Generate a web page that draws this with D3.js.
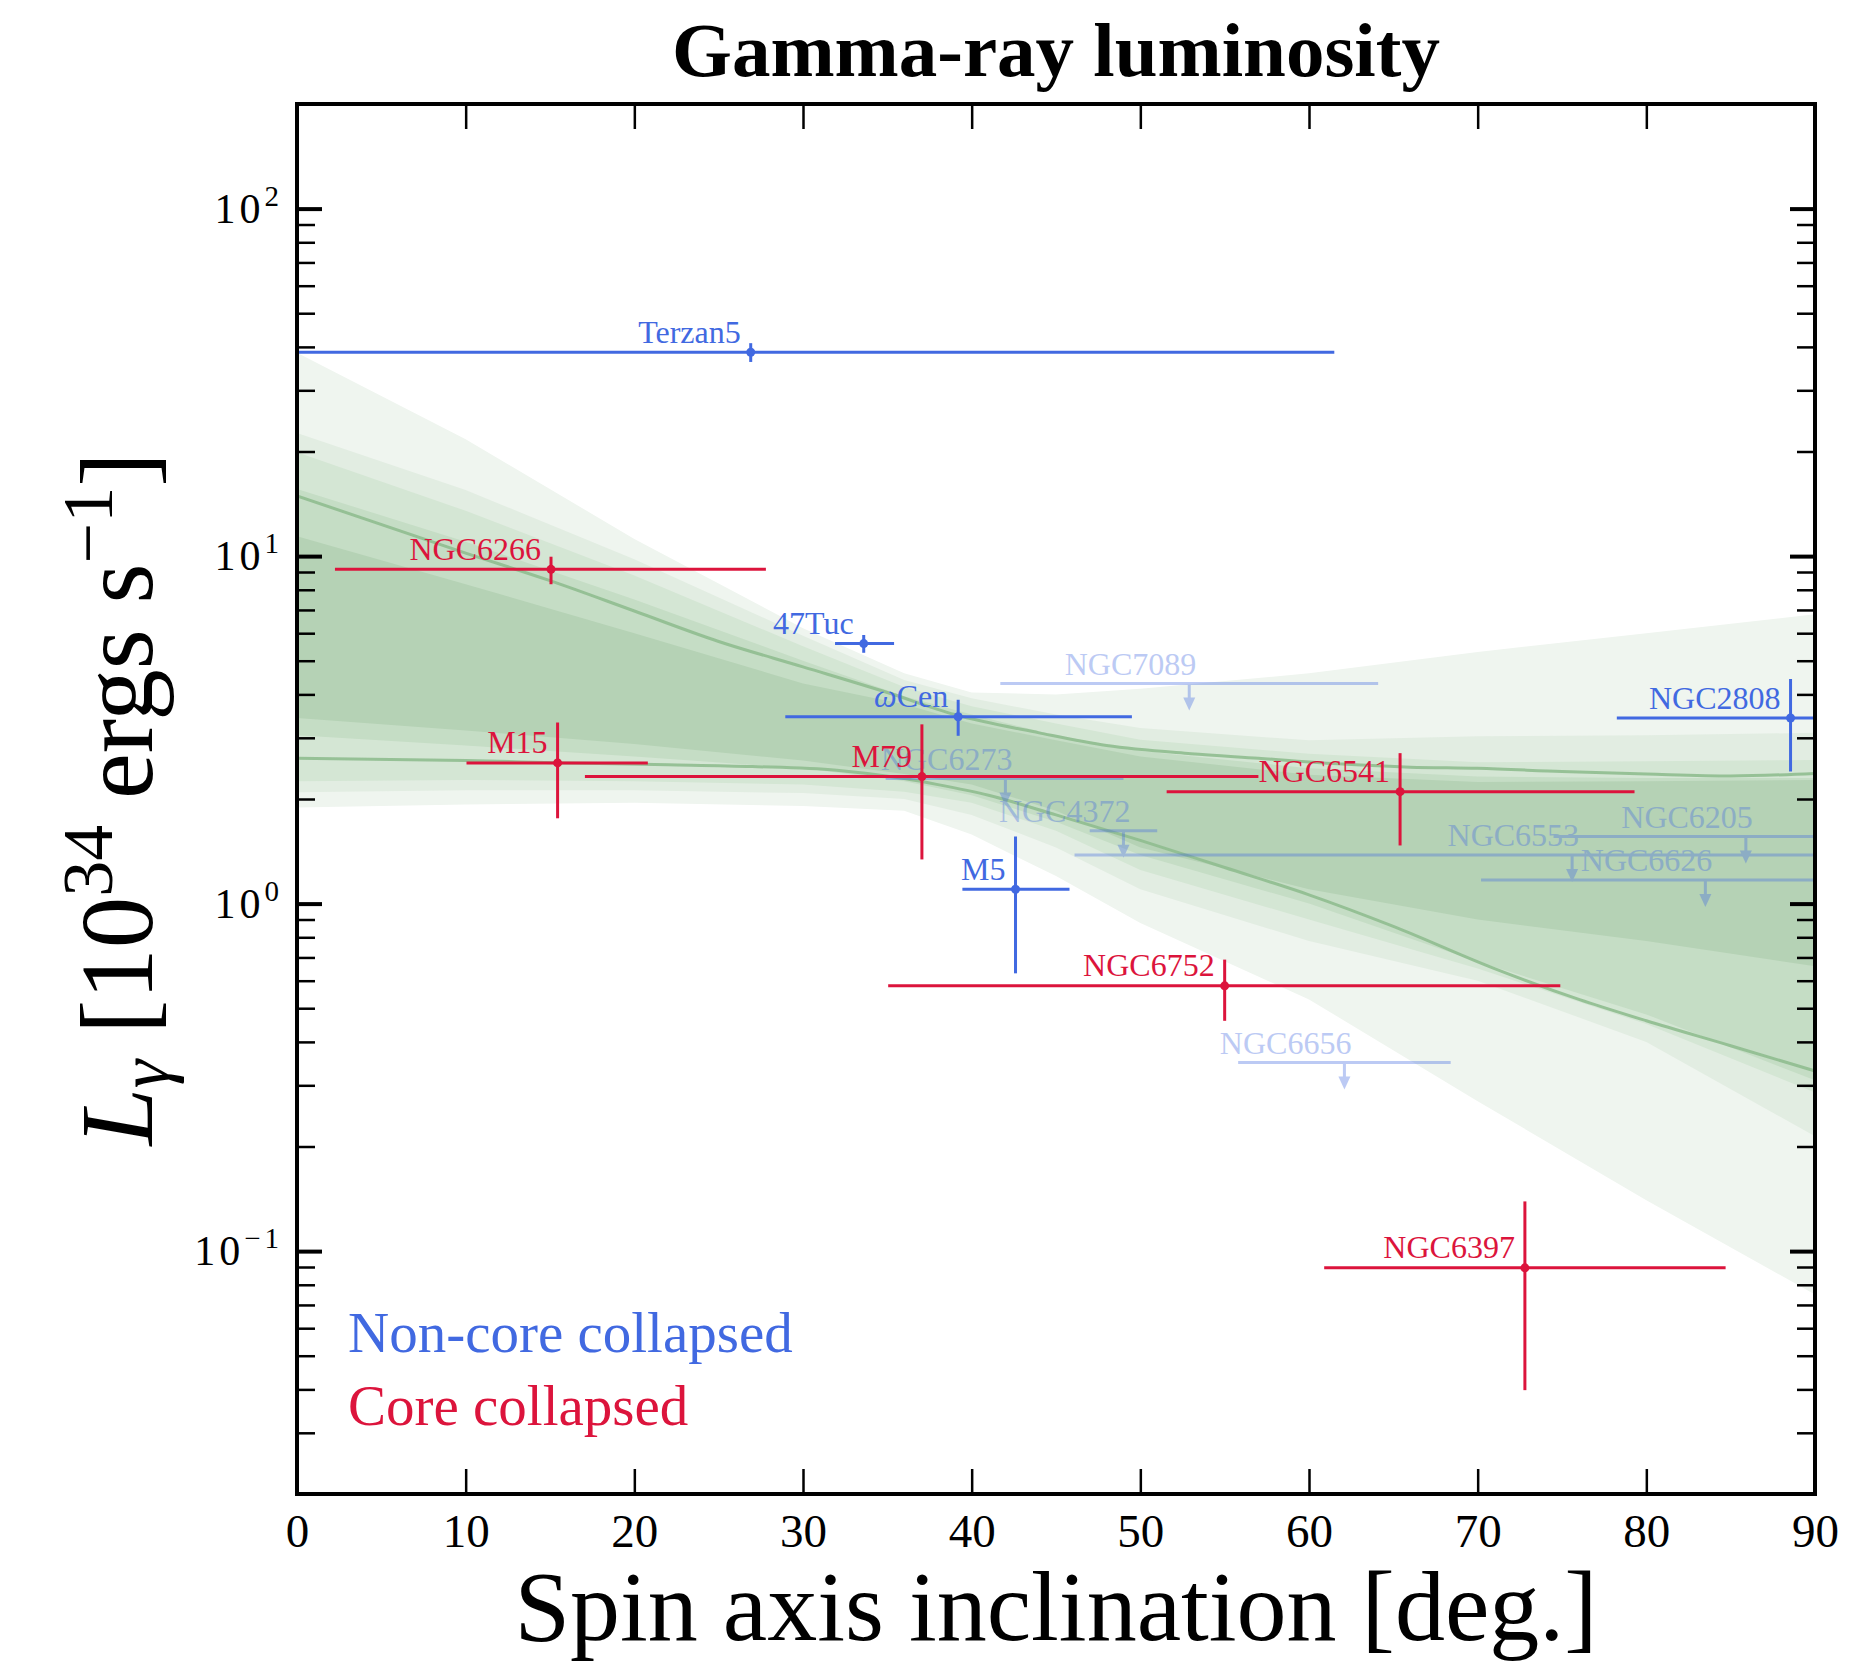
<!DOCTYPE html>
<html>
<head>
<meta charset="utf-8">
<script src="https://cdn.jsdelivr.net/npm/d3@7"></script>
<style>
body { margin: 0; background: #fff; }
text { font-family: "Liberation Serif", "Times New Roman", serif; }
</style>
</head>
<body>
<svg id="chart" width="1865" height="1663"></svg>
<script>
// gamma-ray luminosity of globular clusters vs spin axis inclination

var plotLeft = 297, plotRight = 1815, plotTop = 104, plotBottom = 1494

// the two model curves
var lineAX = [0,10,15,20,25,30,35,39,44,48,53,57,62,66,70,75,80,85,90]
var lineAY = [14.9,10.2,8.5,6.95,5.68,4.8,4.05,3.5,3.1,2.85,2.7,2.62,2.52,2.47,2.45,2.4,2.36,2.33,2.37]
var lineBX = [0,10,16,22,27,32,36,38,41,45,50,55,60,65,71,76,80,85,90]
var lineBY = [2.62,2.58,2.54,2.51,2.48,2.42,2.29,2.2,2.05,1.8,1.52,1.27,1.06,0.86,0.65,0.53,0.46,0.39,0.33]

// shaded bands, outer (lightest) to inner (darkest)
var bandX   = [0,10,20,30,36,40,45,50,60,70,80,90]
var band1Hi = [38.5,21.7,11.2,6.2,4.6,4.05,4.0,4.15,4.6,5.3,6.0,6.8]
var band1Lo = [1.89,1.93,1.95,1.91,1.85,1.58,1.2,0.88,0.53,0.27,0.14,0.075]
var band2Hi = [22.6,15.5,9.8,5.9,4.4,3.9,3.5,3.2,2.95,3.03,3.05,3.1]
var band2Lo = [2.09,2.12,2.12,2.08,2.0,1.8,1.45,1.1,0.78,0.6,0.4,0.214]
var band3Hi = [19.9,13.5,8.8,5.5,4.2,3.7,3.3,2.96,2.7,2.55,2.57,2.59]
var band3Lo = [2.25,2.27,2.25,2.2,2.1,1.95,1.62,1.25,0.9,0.65,0.45,0.286]
var band4Hi = [15.6,11.0,7.5,5.0,3.95,3.5,3.05,2.75,2.45,2.32,2.3,2.3]
var band4Lo = [3.05,2.85,2.65,2.45,2.25,2.05,1.72,1.38,1.0,0.68,0.48,0.31]
var band5Hi = [11.4,8.3,6.0,4.3,3.75,3.3,2.95,2.65,2.35,2.24,2.25,2.27]
var band5Lo = [3.42,3.15,2.88,2.58,2.36,2.2,1.85,1.45,1.1,0.9,0.78,0.66]
var bandColors = ["#eff5ef","#e2ede2","#d4e6d4","#c5ddc5","#b5d2b5"]

// detected clusters
var detNames  = ["Terzan5","47Tuc","ωCen","M5","NGC2808","NGC6266","M15","M79","NGC6541","NGC6752","NGC6397"]
var detCore   = [false,false,false,false,false,true,true,true,true,true,true]
var detIncl   = [26.9,33.6,39.2,42.6,88.55,15.06,15.45,37.05,65.4,55.0,72.8]
var detInclLo = [0,31.9,28.95,39.45,78.25,2.25,10.05,17.07,51.56,35.05,60.9]
var detInclHi = [61.5,35.4,49.5,45.8,98,27.8,20.8,57.0,79.3,74.9,84.7]
var detLum    = [38.6,5.6,3.45,1.10,3.42,9.16,2.54,2.32,2.10,0.58,0.0895]
var detLumLo  = [36.2,5.27,3.04,0.63,2.40,8.3,1.76,1.34,1.47,0.46,0.0398]
var detLumHi  = [41.0,5.93,3.86,1.56,4.43,9.96,3.32,3.28,2.71,0.69,0.139]

// upper limits (not detected)
var ulNames   = ["NGC7089","NGC6273","NGC4372","NGC6553","NGC6205","NGC6626","NGC6656"]
var ulIncl    = [52.9,42.0,49.0,75.6,85.9,83.5,62.1]
var ulInclLo  = [41.7,34.9,47.0,46.1,74.5,70.2,55.8]
var ulInclHi  = [64.1,49.0,51.0,98,98,98,68.4]
var ulLum     = [4.30,2.29,1.62,1.38,1.56,1.17,0.349]

var xTicks = [0,10,20,30,40,50,60,70,80,90]
var yMajor = [0.1,1,10,100]
var yExp   = ["−1","0","1","2"]
var yMinor = [0.02,0.03,0.04,0.05,0.06,0.07,0.08,0.09,0.2,0.3,0.4,0.5,0.6,0.7,0.8,0.9,
              2,3,4,5,6,7,8,9,20,30,40,50,60,70,80,90]

var blue = "#4169e1", red = "#dc143c"

var svg = d3.select("#chart")
var x = d3.scaleLinear().domain([0,90]).range([plotLeft,plotRight])
var y = d3.scaleLog().domain([0.02,200]).range([plotBottom,plotTop])

svg.append("defs").append("clipPath").attr("id","plotclip")
  .append("rect").attr("x",plotLeft).attr("y",plotTop)
  .attr("width",plotRight-plotLeft).attr("height",plotBottom-plotTop)

var plot = svg.append("g").attr("clip-path","url(#plotclip)")

// bands
var bands = [[band1Lo,band1Hi],[band2Lo,band2Hi],[band3Lo,band3Hi],[band4Lo,band4Hi],[band5Lo,band5Hi]]
var area = d3.area()
  .x(function(d){ return x(d[0]) })
  .y0(function(d){ return y(d[1]) })
  .y1(function(d){ return y(d[2]) })
bands.forEach(function(b, i) {
  var pts = bandX.map(function(v, j){ return [v, b[0][j], b[1][j]] })
  plot.append("path").attr("d", area(pts)).attr("fill", bandColors[i])
})

var line = d3.line().x(function(d){ return x(d[0]) }).y(function(d){ return y(d[1]) })
  .curve(d3.curveMonotoneX)
;[[lineAX,lineAY],[lineBX,lineBY]].forEach(function(l) {
  var pts = l[0].map(function(v, j){ return [v, l[1][j]] })
  plot.append("path").attr("d", line(pts)).attr("fill","none")
    .attr("stroke","#8fbc8f").attr("stroke-width",3).attr("opacity",0.9)
})

// upper limits
var ulG = plot.append("g").attr("opacity",0.35)
ulNames.forEach(function(n, i) {
  var ly = y(ulLum[i]), ax = x(ulIncl[i])
  ulG.append("line").attr("x1",x(ulInclLo[i])).attr("x2",x(ulInclHi[i]))
    .attr("y1",ly).attr("y2",ly).attr("stroke",blue).attr("stroke-width",3)
  ulG.append("line").attr("x1",ax).attr("x2",ax).attr("y1",ly).attr("y2",ly+16)
    .attr("stroke",blue).attr("stroke-width",3)
  ulG.append("path").attr("d","M"+(ax-6)+","+(ly+14)+"L"+(ax+6)+","+(ly+14)+"L"+ax+","+(ly+27)+"Z")
    .attr("fill",blue)
  ulG.append("text").attr("x",ax+7).attr("y",ly-8.5).attr("text-anchor","end")
    .style("font-size","32px").attr("fill",blue).text(n)
})

// detections
detNames.forEach(function(n, i) {
  var c = detCore[i] ? red : blue
  var cx = x(detIncl[i]), cy = y(detLum[i])
  var g = plot.append("g")
  g.append("line").attr("x1",x(detInclLo[i])).attr("x2",x(detInclHi[i]))
    .attr("y1",cy).attr("y2",cy).attr("stroke",c).attr("stroke-width",3)
  g.append("line").attr("x1",cx).attr("x2",cx).attr("y1",y(detLumLo[i])).attr("y2",y(detLumHi[i]))
    .attr("stroke",c).attr("stroke-width",3)
  g.append("circle").attr("cx",cx).attr("cy",cy).attr("r",4.5).attr("fill",c)
  var t = g.append("text").attr("x",cx-10).attr("y",cy-9.5).attr("text-anchor","end")
    .style("font-size","32px").attr("fill",c)
  if (n.charAt(0) == "ω") {
    t.append("tspan").style("font-style","italic").text("ω")
    t.append("tspan").text(n.substr(1))
  } else t.text(n)
})

// axes, ticks inward on all four sides
function styleAxis(g) {
  g.select(".domain").remove()
  g.selectAll(".tick line").attr("stroke","#000")
}
svg.append("g").attr("transform","translate(0,"+plotBottom+")")
  .call(d3.axisBottom(x).tickValues(xTicks).tickSize(-25).tickSizeOuter(0).tickPadding(20).tickFormat(d3.format("d")))
  .call(styleAxis)
  .call(function(g){
    g.selectAll(".tick line").attr("stroke-width",2.5)
    g.selectAll(".tick text").attr("fill","#000").style("font-size","47px")
      .style("font-family","'Liberation Serif', serif")
  })
svg.append("g").attr("transform","translate(0,"+plotTop+")")
  .call(d3.axisTop(x).tickValues(xTicks).tickSize(-25).tickSizeOuter(0).tickFormat(""))
  .call(styleAxis)
  .call(function(g){ g.selectAll(".tick line").attr("stroke-width",2.5) })

;[[d3.axisLeft, plotLeft],[d3.axisRight, plotRight]].forEach(function(a) {
  svg.append("g").attr("transform","translate("+a[1]+",0)")
    .call(a[0](y).tickValues(yMajor).tickSize(-25).tickSizeOuter(0).tickFormat(""))
    .call(styleAxis)
    .call(function(g){ g.selectAll(".tick line").attr("stroke-width",4) })
  svg.append("g").attr("transform","translate("+a[1]+",0)")
    .call(a[0](y).tickValues(yMinor).tickSize(-18).tickSizeOuter(0).tickFormat(""))
    .call(styleAxis)
    .call(function(g){ g.selectAll(".tick line").attr("stroke-width",2.5) })
})

// y tick labels 10^n
yMajor.forEach(function(v, i) {
  var t = svg.append("text").attr("x",283).attr("y",y(v)+14).attr("text-anchor","end")
    .style("font-size","42px").style("letter-spacing","4px")
  t.append("tspan").text("10")
  t.append("tspan").attr("dy",-17).style("font-size","29px").text(yExp[i])
})

svg.append("rect").attr("x",plotLeft).attr("y",plotTop)
  .attr("width",plotRight-plotLeft).attr("height",plotBottom-plotTop)
  .attr("fill","none").attr("stroke","#000").attr("stroke-width",4)

// titles
svg.append("text").attr("x",(plotLeft+plotRight)/2).attr("y",76).attr("text-anchor","middle")
  .style("font-size","77px").style("font-weight","bold").text("Gamma-ray luminosity")
svg.append("text").attr("x",(plotLeft+plotRight)/2).attr("y",1640).attr("text-anchor","middle")
  .style("font-size","100px").text("Spin axis inclination [deg.]")

var yl = svg.append("text").attr("transform","translate(152,"+((plotTop+plotBottom)/2)+") rotate(-90)")
  .attr("text-anchor","middle").style("font-size","103px")
yl.append("tspan").style("font-style","italic").text("L")
yl.append("tspan").style("font-style","italic").style("font-size","72px").attr("dy",17).text("γ")
yl.append("tspan").attr("dy",-17).text(" [10")
yl.append("tspan").style("font-size","72px").attr("dy",-40).text("34")
yl.append("tspan").attr("dy",40).text(" ergs s")
yl.append("tspan").style("font-size","72px").attr("dy",-40).text("−1")
yl.append("tspan").attr("dy",40).text("]")

// legend
svg.append("text").attr("x",348).attr("y",1352).style("font-size","57px").attr("fill",blue).text("Non-core collapsed")
svg.append("text").attr("x",348).attr("y",1425).style("font-size","57px").attr("fill",red).text("Core collapsed")
</script>
</body>
</html>
